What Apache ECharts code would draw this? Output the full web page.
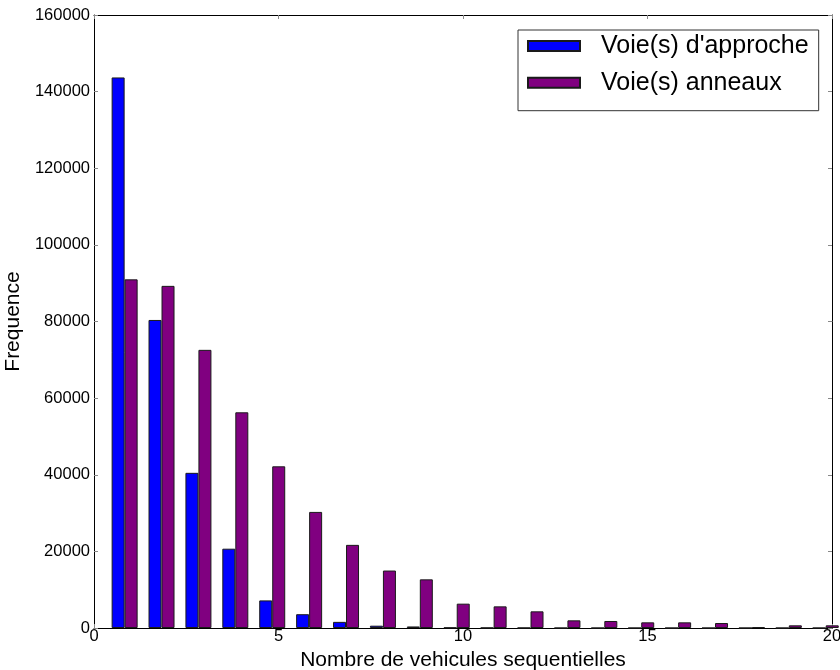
<!DOCTYPE html>
<html>
<head>
<meta charset="utf-8">
<script src="https://cdn.jsdelivr.net/npm/echarts@6/dist/echarts.min.js"></script>
<style>
  html, body { margin: 0; padding: 0; background: #ffffff; }
  #chart { width: 840px; height: 670px; }
</style>
</head>
<body>
<div id="chart"></div>
<script>
// Histogram of sequential vehicle counts: approach lanes vs ring lanes
const binCenters = [0.83, 1.83, 2.83, 3.83, 4.83, 5.83, 6.83, 7.83, 8.83, 9.83,
                    10.83, 11.83, 12.83, 13.83, 14.83, 15.83, 16.83, 17.83, 18.83, 19.83];
const approachCounts = [143700, 80400, 40500, 20700, 7200, 3600, 1600, 600, 400, 100,
                        50, 30, 0, 0, 0, 0, 0, 0, 0, 0];
const ringCounts = [91000, 89300, 72600, 56300, 42200, 30300, 21700, 15000, 12700, 6350,
                    5650, 4350, 2000, 1830, 1480, 1480, 1300, 200, 700, 700];
const seriesNames = ["Voie(s) d'approche", "Voie(s) anneaux"];
const xTicks = { min: 0, max: 20, interval: 5 };
const yTicks = { min: 0, max: 160000, interval: 20000 };

const FONT = 'Liberation Sans, Arial, sans-serif';

const pairs = (vals) => binCenters.map((x, i) => [x, vals[i]]);
const plain = (v) => String(v);

const chart = echarts.init(document.getElementById('chart'), null, { renderer: 'canvas' });

const tickStyle = { show: true, inside: true, length: 4, lineStyle: { color: '#888', width: 1 } };
const lineStyle = { show: true, onZero: false, lineStyle: { color: '#000', width: 1 } };

chart.setOption({
  backgroundColor: '#ffffff',
  animation: false,
  textStyle: { fontFamily: FONT },
  grid: { left: 94, right: 8, top: 15, bottom: 42, containLabel: false, outerBoundsMode: 'none' },
  legend: {
    orient: 'vertical',
    left: 518,
    top: 30,
    padding: [3, 10, 15, 9],
    itemGap: 10.7,
    itemWidth: 52,
    itemHeight: 10,
    borderColor: '#333',
    borderWidth: 1,
    backgroundColor: '#ffffff',
    icon: 'rect',
    textStyle: { fontFamily: FONT, fontSize: 25, color: '#000', lineHeight: 26, padding: [0, 0, 0, 16] },
    data: seriesNames
  },
  xAxis: [
    {
      type: 'value', position: 'bottom', min: xTicks.min, max: xTicks.max, interval: xTicks.interval,
      name: 'Nombre de vehicules sequentielles', nameLocation: 'middle', nameGap: 20,
      nameTextStyle: { fontFamily: FONT, fontSize: 21, color: '#000' },
      axisLine: lineStyle, axisTick: tickStyle,
      axisLabel: { fontFamily: FONT, fontSize: 16.5, color: '#000', margin: 0, formatter: plain },
      splitLine: { show: false }
    },
    {
      type: 'value', position: 'top', min: xTicks.min, max: xTicks.max, interval: xTicks.interval,
      axisLine: lineStyle, axisTick: tickStyle, axisLabel: { show: false }, splitLine: { show: false }
    }
  ],
  yAxis: [
    {
      type: 'value', position: 'left', min: yTicks.min, max: yTicks.max, interval: yTicks.interval,
      name: 'Frequence', nameLocation: 'middle', nameGap: 63,
      nameTextStyle: { fontFamily: FONT, fontSize: 21, color: '#000' },
      axisLine: lineStyle, axisTick: tickStyle,
      axisLabel: { fontFamily: FONT, fontSize: 16.5, color: '#000', margin: 4, formatter: plain },
      splitLine: { show: false }
    },
    {
      type: 'value', position: 'right', min: yTicks.min, max: yTicks.max, interval: yTicks.interval,
      axisLine: lineStyle, axisTick: tickStyle, axisLabel: { show: false }, splitLine: { show: false }
    }
  ],
  series: [
    {
      name: seriesNames[0], type: 'bar', xAxisIndex: 0, yAxisIndex: 0,
      barWidth: 13, barGap: '0%', clip: true,
      itemStyle: { color: '#0000ff', borderColor: '#1a1a1a', borderWidth: 1 },
      data: pairs(approachCounts)
    },
    {
      name: seriesNames[1], type: 'bar', xAxisIndex: 0, yAxisIndex: 0,
      barWidth: 13, barGap: '0%', clip: true,
      itemStyle: { color: '#800080', borderColor: '#1a1a1a', borderWidth: 1 },
      data: pairs(ringCounts)
    }
  ]
});
</script>
</body>
</html>
